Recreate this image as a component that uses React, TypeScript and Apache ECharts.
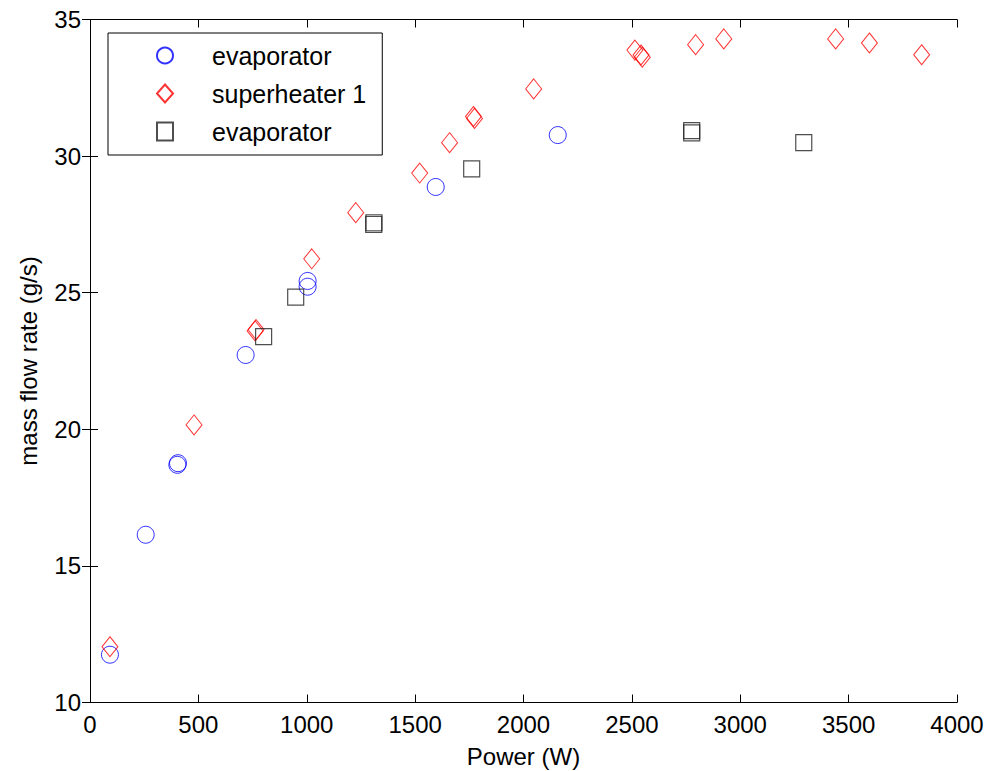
import React, { useEffect, useRef } from "react";
import * as echarts from "echarts";

// Power (W) and mass flow rate (g/s)
const evapPower = [92, 257, 403, 406, 718, 1004, 1004, 1595, 2158];
const evapFlow = [11.75, 16.14, 18.7, 18.76, 22.72, 25.43, 25.22, 28.87, 30.77];

const superPower = [92, 480, 762, 766, 1023, 1226, 1521, 1659, 1769, 1774, 2047, 2514, 2542, 2548, 2794, 2924, 3440, 3596, 3837];
const superFlow = [12.04, 20.16, 23.6, 23.65, 26.24, 27.93, 29.38, 30.49, 31.45, 31.38, 32.46, 33.88, 33.7, 33.62, 34.08, 34.29, 34.29, 34.14, 33.71];

const evap2Power = [801, 949, 1309, 1310, 1761, 2776, 2776, 3293];
const evap2Flow = [23.39, 24.84, 27.5, 27.56, 29.53, 30.93, 30.85, 30.49];

const seriesNames = ["evaporator", "superheater 1", "evaporator (2)"];
const legendLabels = ["evaporator", "superheater 1", "evaporator"];

const xTitle = "Power (W)";
const yTitle = "mass flow rate (g/s)";

const FONT = "'Liberation Sans', Arial, Helvetica, sans-serif";

function pairs(xs: number[], ys: number[]) {
  return xs.map((x, i) => [x, ys[i]]);
}

export default function App() {
  const ref = useRef<HTMLDivElement>(null);

  useEffect(() => {
    document.body.style.margin = "0";
    if (!ref.current) return;
    const chart = echarts.init(ref.current, undefined, { renderer: "svg" });

    const axisLine = { show: true, lineStyle: { color: "#000", width: 1 } };
    const tick = { show: true, inside: true, length: 8, lineStyle: { color: "#000", width: 1 } };
    const label = { color: "#000", fontSize: 24, fontFamily: FONT, formatter: (v: number) => String(v) };

    chart.setOption({
      animation: false,
      backgroundColor: "#fff",
      grid: { left: 90, right: 32, top: 19.5, bottom: 68.5, containLabel: false, outerBoundsMode: "none" },
      legend: {
        show: true,
        selectedMode: false,
        orient: "vertical",
        left: 108,
        top: 33,
        backgroundColor: "#fff",
        borderColor: "#000",
        borderWidth: 1,
        padding: [10, 16, 11, 48],
        itemWidth: 16,
        itemHeight: 18,
        itemGap: 13,
        data: seriesNames,
        formatter: (name: string) => legendLabels[seriesNames.indexOf(name)],
        textStyle: { color: "#000", fontSize: 25, fontFamily: FONT, padding: [0, 0, 0, 34] },
      },
      xAxis: [
        {
          type: "value",
          position: "bottom",
          min: 0,
          max: 4000,
          interval: 500,
          axisLine,
          axisTick: tick,
          splitLine: { show: false },
          axisLabel: { ...label, margin: 10 },
          name: xTitle,
          nameLocation: "middle",
          nameGap: 42,
          nameTextStyle: { color: "#000", fontSize: 24, fontFamily: FONT },
        },
        {
          type: "value",
          position: "top",
          min: 0,
          max: 4000,
          interval: 500,
          axisLine,
          axisTick: tick,
          splitLine: { show: false },
          axisLabel: { show: false },
        },
      ],
      yAxis: [
        {
          type: "value",
          position: "left",
          min: 10,
          max: 35,
          interval: 5,
          axisLine,
          axisTick: tick,
          splitLine: { show: false },
          axisLabel: { ...label, margin: 9 },
          name: yTitle,
          nameLocation: "middle",
          nameGap: 50,
          nameRotate: 90,
          nameTextStyle: { color: "#000", fontSize: 24, fontFamily: FONT },
        },
        {
          type: "value",
          position: "right",
          min: 10,
          max: 35,
          interval: 5,
          axisLine,
          axisTick: tick,
          splitLine: { show: false },
          axisLabel: { show: false },
        },
      ],
      series: [
        {
          name: seriesNames[0],
          type: "scatter",
          xAxisIndex: 0,
          yAxisIndex: 0,
          symbol: "circle",
          symbolSize: 17,
          itemStyle: { color: "transparent", borderColor: "#0000ff", borderWidth: 1 },
          emphasis: { disabled: true },
          data: pairs(evapPower, evapFlow),
        },
        {
          name: seriesNames[1],
          type: "scatter",
          xAxisIndex: 0,
          yAxisIndex: 0,
          symbol: "diamond",
          symbolSize: [16, 20],
          itemStyle: { color: "transparent", borderColor: "#ff0000", borderWidth: 1 },
          emphasis: { disabled: true },
          data: pairs(superPower, superFlow),
        },
        {
          name: seriesNames[2],
          type: "scatter",
          xAxisIndex: 0,
          yAxisIndex: 0,
          symbol: "rect",
          symbolSize: 16,
          itemStyle: { color: "transparent", borderColor: "#222", borderWidth: 1.2 },
          emphasis: { disabled: true },
          data: pairs(evap2Power, evap2Flow),
        },
      ],
    });

    return () => chart.dispose();
  }, []);

  return <div ref={ref} style={{ width: 989, height: 771 }} />;
}
